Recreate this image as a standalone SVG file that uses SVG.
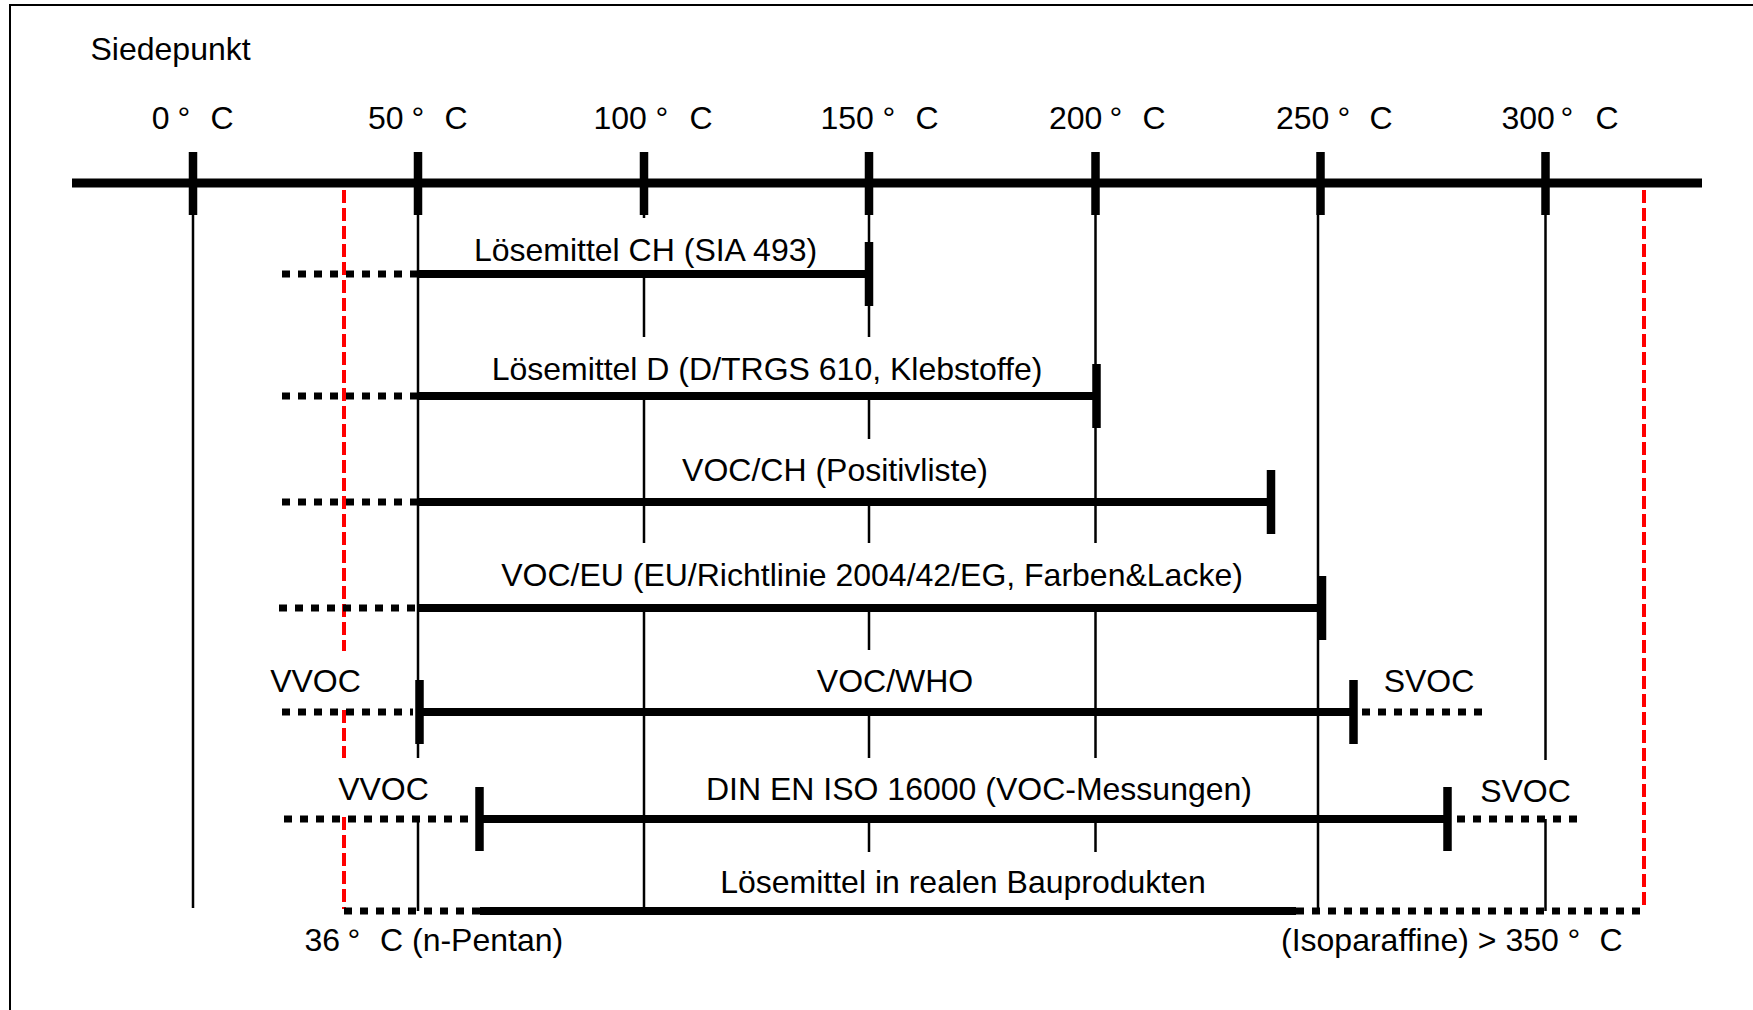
<svg xmlns="http://www.w3.org/2000/svg" width="1753" height="1010" viewBox="0 0 1753 1010">
<style>
.frame{fill:none;stroke:#000;stroke-width:2}
.thin{stroke:#000;stroke-width:2.5;fill:none}
.red{stroke:#f00;stroke-width:4;stroke-dasharray:13 5;fill:none}
.axis{stroke:#000;stroke-width:9;fill:none}
.tick{stroke:#000;stroke-width:8.5;fill:none}
.bar{stroke:#000;stroke-width:8;fill:none}
.dot{stroke:#000;stroke-width:7;stroke-dasharray:8 8;fill:none}
.cap{stroke:#000;stroke-width:8.5;fill:none}
text{font-family:"Liberation Sans",Arial,sans-serif;font-size:32px;fill:#000}
.mid{text-anchor:middle}
</style>
<rect width="1753" height="1010" fill="#fff"/>
<path class="frame" d="M10,1010 V5 H1753"/>

<g id="gridlines">
<path class="thin" d="M193,215 V908"/>
<path class="thin" d="M418,215 V758 M418,819 V911"/>
<path class="thin" d="M644,215 V218 M644,274 V337 M644,396 V543 M644,608 V911"/>
<path class="thin" d="M869,215 V337 M869,396 V439 M869,502 V543 M869,608 V650 M869,712 V758 M869,819 V852"/>
<path class="thin" d="M1095.5,215 V543 M1095.5,608 V758 M1095.5,819 V852"/>
<path class="thin" d="M1318,215 V911"/>
<path class="thin" d="M1545.5,215 V760 M1545.5,819 V911"/>
</g>

<g id="boundaries">
<path class="red" d="M344,190 V651 M344,710 V758 M344,817 V909"/>
<path class="red" d="M1644,190 V909"/>
</g>

<g id="axis">
<path class="axis" d="M72,183 H1702"/>
<path class="tick" d="M193,152 V215 M418,152 V215 M644,152 V215 M869,152 V215 M1095.5,152 V215 M1320.5,152 V215 M1545.5,152 V215"/>
<text x="90.5" y="60">Siedepunkt</text>
<text x="151.7" y="129">0<tspan x="177.5">°</tspan><tspan x="210.5">C</tspan></text>
<text x="368" y="129">50<tspan x="411.5">°</tspan><tspan x="444.5">C</tspan></text>
<text x="593.5" y="129">100<tspan x="655.5">°</tspan><tspan x="689.5">C</tspan></text>
<text x="820.5" y="129">150<tspan x="882.5">°</tspan><tspan x="915.5">C</tspan></text>
<text x="1049" y="129">200<tspan x="1109.5">°</tspan><tspan x="1142.5">C</tspan></text>
<text x="1276" y="129">250<tspan x="1337.5">°</tspan><tspan x="1369.5">C</tspan></text>
<text x="1501.5" y="129">300<tspan x="1560.5">°</tspan><tspan x="1595.5">C</tspan></text>
</g>

<g id="row-loesemittel-ch">
<path class="dot" d="M282,274 H417"/>
<path class="bar" d="M419,274 H869"/>
<path class="cap" d="M869,242 V306"/>
<text class="mid" x="645.5" y="261">Lösemittel CH (SIA 493)</text>
</g>

<g id="row-loesemittel-d">
<path class="dot" d="M282,396 H417"/>
<path class="bar" d="M419,396 H1096.5"/>
<path class="cap" d="M1096.5,364 V428"/>
<text class="mid" x="767" y="380">Lösemittel D (D/TRGS 610, Klebstoffe)</text>
</g>

<g id="row-voc-ch">
<path class="dot" d="M282,502 H417"/>
<path class="bar" d="M419,502 H1271"/>
<path class="cap" d="M1271,470 V534"/>
<text class="mid" x="835" y="481">VOC/CH (Positivliste)</text>
</g>

<g id="row-voc-eu">
<path class="dot" d="M279,608 H415"/>
<path class="bar" d="M417,608 H1322"/>
<path class="cap" d="M1322,576 V640"/>
<text class="mid" x="872" y="586">VOC/EU (EU/Richtlinie 2004/42/EG, Farben&amp;Lacke)</text>
</g>

<g id="row-voc-who">
<path class="dot" d="M282,712 H413"/>
<path class="cap" d="M419.5,680 V744"/>
<path class="bar" d="M419.5,712 H1353.5"/>
<path class="cap" d="M1353.5,680 V744"/>
<path class="dot" d="M1362,712 H1486"/>
<text class="mid" x="315.5" y="692">VVOC</text>
<text class="mid" x="895" y="692">VOC/WHO</text>
<text class="mid" x="1429" y="692">SVOC</text>
</g>

<g id="row-din-en-iso-16000">
<path class="dot" d="M284,819 H470"/>
<path class="cap" d="M479.5,787 V851"/>
<path class="bar" d="M479.5,819 H1447.5"/>
<path class="cap" d="M1447.5,787 V851"/>
<path class="dot" d="M1457,819 H1583"/>
<text class="mid" x="383.5" y="800">VVOC</text>
<text class="mid" x="979" y="800">DIN EN ISO 16000 (VOC-Messungen)</text>
<text class="mid" x="1525.5" y="802">SVOC</text>
</g>

<g id="row-bauprodukte">
<path class="dot" d="M344,911 H480"/>
<path class="bar" d="M480,911 H1296"/>
<path class="dot" d="M1296,911 H1641"/>
<text class="mid" x="963" y="893">Lösemittel in realen Bauprodukten</text>
<text x="304.5" y="951">36<tspan x="347.5">°</tspan><tspan x="380">C (n-Pentan)</tspan></text>
<text x="1281" y="951">(Isoparaffine) &gt; 350<tspan x="1567.5">°</tspan><tspan x="1599.5">C</tspan></text>
</g>
</svg>
